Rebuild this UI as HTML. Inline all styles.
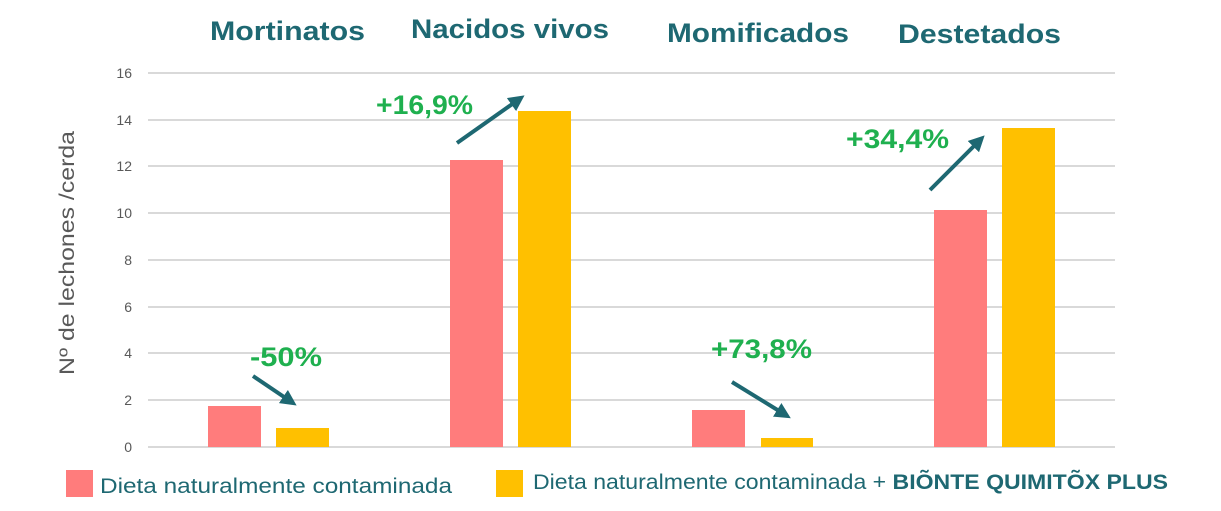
<!DOCTYPE html>
<html><head><meta charset="utf-8"><style>
body{margin:0;background:#fff;width:1221px;height:511px;overflow:hidden}
svg{display:block}
</style></head><body>
<svg width="1221" height="511" xmlns="http://www.w3.org/2000/svg" font-family="Liberation Sans, sans-serif">
<defs><marker id="ah" markerWidth="4" markerHeight="4" refX="2" refY="2" orient="auto"><path d="M0,0 L4,2 L0,4 Z" fill="#1e6872"/></marker></defs>
<g stroke="#d9d9d9" stroke-width="2">
<line x1="148" y1="73" x2="1115" y2="73"/><line x1="148" y1="120" x2="1115" y2="120"/>
<line x1="148" y1="166" x2="1115" y2="166"/><line x1="148" y1="213" x2="1115" y2="213"/>
<line x1="148" y1="260" x2="1115" y2="260"/><line x1="148" y1="307" x2="1115" y2="307"/>
<line x1="148" y1="353" x2="1115" y2="353"/><line x1="148" y1="400" x2="1115" y2="400"/>
<line x1="148" y1="447" x2="1115" y2="447"/></g>
<g font-size="14" fill="#595959" text-anchor="end">
<text x="132" y="78">16</text><text x="132" y="125">14</text><text x="132" y="171">12</text><text x="132" y="218">10</text>
<text x="132" y="265">8</text><text x="132" y="312">6</text><text x="132" y="358">4</text><text x="132" y="405">2</text><text x="132" y="452">0</text></g>
<text transform="translate(74,253) rotate(-90)" text-anchor="middle" font-size="21" fill="#595959" textLength="244" lengthAdjust="spacingAndGlyphs">Nº de lechones /cerda</text>
<g fill="#ff7c7c"><rect x="208" y="406" width="53" height="41"/><rect x="450" y="160" width="53" height="287"/><rect x="692" y="410" width="53" height="37"/><rect x="934" y="210" width="53" height="237"/></g>
<g fill="#ffc000"><rect x="276" y="428" width="53" height="19"/><rect x="518" y="111" width="53" height="336"/><rect x="761" y="438" width="52" height="9"/><rect x="1002" y="128" width="53" height="319"/></g>
<g font-size="27" font-weight="bold" fill="#1e6872">
<text x="210" y="40" textLength="155" lengthAdjust="spacingAndGlyphs">Mortinatos</text>
<text x="411" y="38" textLength="198" lengthAdjust="spacingAndGlyphs">Nacidos vivos</text>
<text x="667" y="42" textLength="182" lengthAdjust="spacingAndGlyphs">Momificados</text>
<text x="898" y="43" textLength="163" lengthAdjust="spacingAndGlyphs">Destetados</text></g>
<g font-size="27" font-weight="bold" fill="#1fb04f">
<text x="250" y="366" textLength="72" lengthAdjust="spacingAndGlyphs">-50%</text>
<text x="376" y="114" textLength="97" lengthAdjust="spacingAndGlyphs">+16,9%</text>
<text x="711" y="358" textLength="101" lengthAdjust="spacingAndGlyphs">+73,8%</text>
<text x="846" y="148" textLength="103" lengthAdjust="spacingAndGlyphs">+34,4%</text></g>
<g stroke="#1e6872" stroke-width="4" marker-end="url(#ah)">
<line x1="253" y1="376" x2="290" y2="401"/><line x1="457" y1="143" x2="518" y2="100"/>
<line x1="732" y1="382" x2="784" y2="414"/><line x1="930" y1="190" x2="979" y2="141"/></g>
<rect x="66" y="470" width="27" height="27" fill="#ff7c7c"/>
<rect x="496" y="470" width="27" height="27" fill="#ffc000"/>
<g font-size="21" fill="#1e6872"><text x="100" y="493" textLength="352" lengthAdjust="spacingAndGlyphs">Dieta naturalmente contaminada</text>
<text x="533" y="489" textLength="635" lengthAdjust="spacingAndGlyphs">Dieta naturalmente contaminada + <tspan font-weight="bold">BIÕNTE QUIMITÕX PLUS</tspan></text></g>
</svg>
</body></html>
